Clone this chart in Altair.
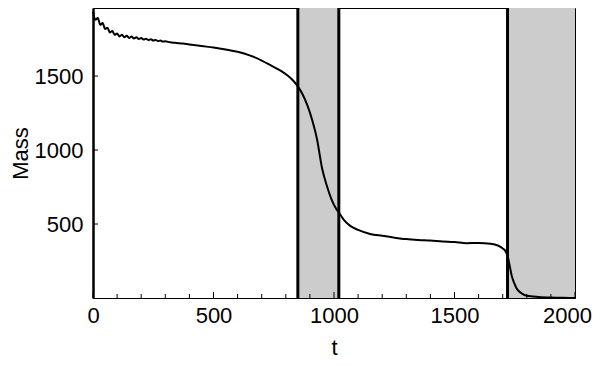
import altair as alt
import pandas as pd

# Curve data
t_vals = [0, 10, 20, 30, 40, 50, 60, 70, 80, 90, 100, 110, 120, 130, 140, 150, 160, 170, 180, 190,
          200, 210, 220, 230, 240, 250, 260, 270, 280, 290, 300, 320, 340, 360, 380, 400, 450, 500,
          550, 600, 650, 700, 740, 780, 810, 830, 850, 870, 890, 910, 930, 950, 970, 990, 1010,
          1020, 1040, 1066, 1100, 1150, 1200, 1250, 1300, 1350, 1400, 1450, 1500, 1550, 1600,
          1650, 1680, 1700, 1710, 1720, 1730, 1737, 1748, 1758, 1780, 1800, 1850, 1900, 1950, 2000]
mass_vals = [1935, 1880, 1893, 1846, 1858, 1818, 1826, 1795, 1804, 1779, 1788, 1768, 1779, 1762,
             1772, 1758, 1767, 1754, 1762, 1750, 1758, 1747, 1753, 1743, 1749, 1740, 1744, 1736,
             1740, 1733, 1735, 1728, 1725, 1722, 1718, 1714, 1703, 1693, 1680, 1664, 1640, 1605,
             1570, 1535, 1500, 1470, 1430, 1375, 1300, 1200, 1070, 880, 760, 665, 600, 578, 530,
             489, 460, 433, 420, 408, 398, 392, 388, 382, 378, 370, 372, 367, 355, 335, 320, 285,
             210, 153, 100, 64, 30, 15, 7, 3, 1, 0]

# Shaded intervals and boundary lines
band_start = [850, 1720]
band_end = [1020, 2000]
boundary_lines = [850, 1020, 1720]

x_major = [0, 500, 1000, 1500, 2000]
x_minor = [100, 200, 300, 400, 600, 700, 800, 900, 1100, 1200, 1300, 1400, 1600, 1700, 1800, 1900]
y_major = [500, 1000, 1500]

W, H = 482, 290
FONT = "Liberation Sans"
FS = 22

curve_df = pd.DataFrame({"t": t_vals, "Mass": mass_vals})
band_df = pd.DataFrame({"start": band_start, "end": band_end})
line_df = pd.DataFrame({"t": boundary_lines})
xmaj_df = pd.DataFrame({"t": x_major})
xmin_df = pd.DataFrame({"t": x_minor})
ymaj_df = pd.DataFrame({"Mass": y_major})

xscale = alt.Scale(domain=[0, 2000], nice=False, zero=False)
yscale = alt.Scale(domain=[0, 1960], nice=False, zero=False)

xaxis = alt.Axis(values=x_major, format="d", ticks=False, grid=False, labelFont=FONT, labelFontSize=FS,
                 labelColor="black", labelPadding=7, titleFont=FONT, titleFontSize=FS,
                 titleFontWeight="normal", titleColor="black", titlePadding=11,
                 domainColor="black", domainWidth=1, labelFlush=False, labelOverlap=False,
                 labelOffset={"condition": {"test": "datum.value == 2000", "value": -8}, "value": 0})
yaxis = alt.Axis(values=y_major, format="d", ticks=False, grid=False, labelFont=FONT, labelFontSize=FS,
                 labelColor="black", labelPadding=10, titleFont=FONT, titleFontSize=FS,
                 titleFontWeight="normal", titleColor="black", titlePadding=2,
                 domainColor="black", domainWidth=2.5)

bands = alt.Chart(band_df).mark_rect(color="#cccccc").encode(
    x=alt.X("start:Q", scale=xscale, axis=xaxis, title="t"),
    x2="end:Q",
)

vlines = alt.Chart(line_df).mark_rule(color="black", strokeWidth=3).encode(
    x=alt.X("t:Q", scale=xscale),
)

curve = alt.Chart(curve_df).mark_line(color="black", strokeWidth=2, interpolate="monotone").encode(
    x=alt.X("t:Q", scale=xscale, axis=xaxis, title="t"),
    y=alt.Y("Mass:Q", scale=yscale, axis=yaxis, title="Mass"),
)

xmaj_ticks = alt.Chart(xmaj_df).mark_rule(color="black", strokeWidth=1).encode(
    x=alt.X("t:Q", scale=xscale), y=alt.value(H), y2=alt.value(H - 6)
)
xmin_ticks = alt.Chart(xmin_df).mark_rule(color="black", strokeWidth=1).encode(
    x=alt.X("t:Q", scale=xscale), y=alt.value(H), y2=alt.value(H - 4)
)
ymaj_ticks = alt.Chart(ymaj_df).mark_rule(color="black", strokeWidth=1).encode(
    y=alt.Y("Mass:Q", scale=yscale), x=alt.value(0), x2=alt.value(5)
)

chart = alt.layer(bands, vlines, xmin_ticks, xmaj_ticks, ymaj_ticks, curve).properties(
    width=W, height=H,
    autosize=alt.AutoSizeParams(type="none"),
    padding={"left": 85, "top": 0, "right": 17, "bottom": 60},
).configure_view(stroke="black", strokeWidth=1)

chart.save("out.html", embed_options={"renderer": "svg", "actions": False})
